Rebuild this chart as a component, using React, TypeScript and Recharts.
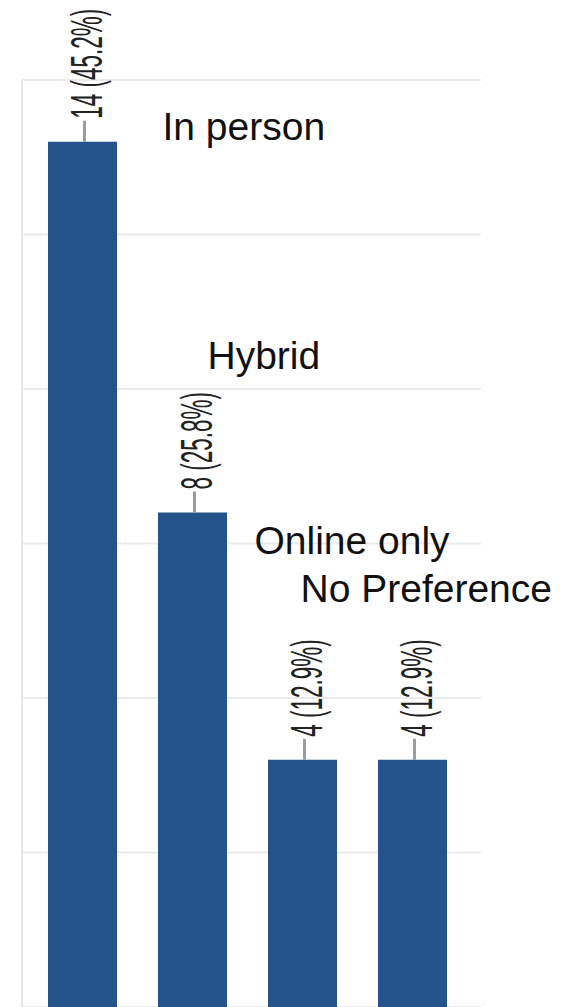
import { BarChart, Bar, XAxis, YAxis, CartesianGrid, LabelList } from "recharts"

const categories = ["In person", "Hybrid", "Online only", "No Preference"]
const counts = [14, 8, 4, 4]
const percents = [45.2, 25.8, 12.9, 12.9]
const yTicks = [0, 2.5, 5, 7.5, 10, 12.5, 15]

const data = categories.map((name, i) => ({ name, count: counts[i], pct: percents[i] }))

// where each category name sits, relative to the top centre of its bar
const namePos = [
    { dx: 80, dy: -2 },
    { dx: 15, dy: -144 },
    { dx: -48, dy: -206 },
    { dx: -112, dy: -158 },
]

const ValueLabel = (props: any) => {
    const { x, y, width, index } = props
    const cx = x + width / 2
    const top = y - 21
    return (
        <g>
            <line x1={cx + 2} y1={y} x2={cx + 2} y2={top} stroke="#9c9c9c" strokeWidth={3} />
            <text
                transform={`translate(${cx + 4},${top - 2}) rotate(-90) scale(0.5,1)`}
                fontSize={45}
                fontFamily="Liberation Sans, Arial, sans-serif"
                fill="#222"
                dominantBaseline="central"
                textAnchor="start"
            >
                {`${counts[index]} (${percents[index]}%)`}
            </text>
        </g>
    )
}

const NameLabel = (props: any) => {
    const { x, y, width, index } = props
    const p = namePos[index]
    return (
        <text
            x={x + width / 2 + p.dx}
            y={y + p.dy}
            fontSize={39}
            fontFamily="Liberation Sans, Arial, sans-serif"
            fill="#111"
        >
            {categories[index]}
        </text>
    )
}

export default function App() {
    return (
        <div style={{ position: "absolute", left: 0, top: 0, background: "#fff" }}>
            <BarChart
                width={564}
                height={1007}
                data={data}
                margin={{ top: 80, right: 83, bottom: 0, left: 21 }}
            >
                <CartesianGrid vertical={false} stroke="#ebebeb" strokeWidth={2} />
                <XAxis dataKey="name" hide padding={{ left: 5, right: 14 }} />
                <YAxis
                    width={1}
                    domain={[0, 15]}
                    ticks={yTicks}
                    interval={0}
                    tick={() => <g />}
                    tickLine={false}
                    axisLine={{ stroke: "#e6e6e6", strokeWidth: 2 }}
                />
                <Bar dataKey="count" fill="#24528A" barSize={69} isAnimationActive={false}>
                    <LabelList dataKey="count" content={ValueLabel} />
                    <LabelList dataKey="name" content={NameLabel} />
                </Bar>
            </BarChart>
        </div>
    )
}
